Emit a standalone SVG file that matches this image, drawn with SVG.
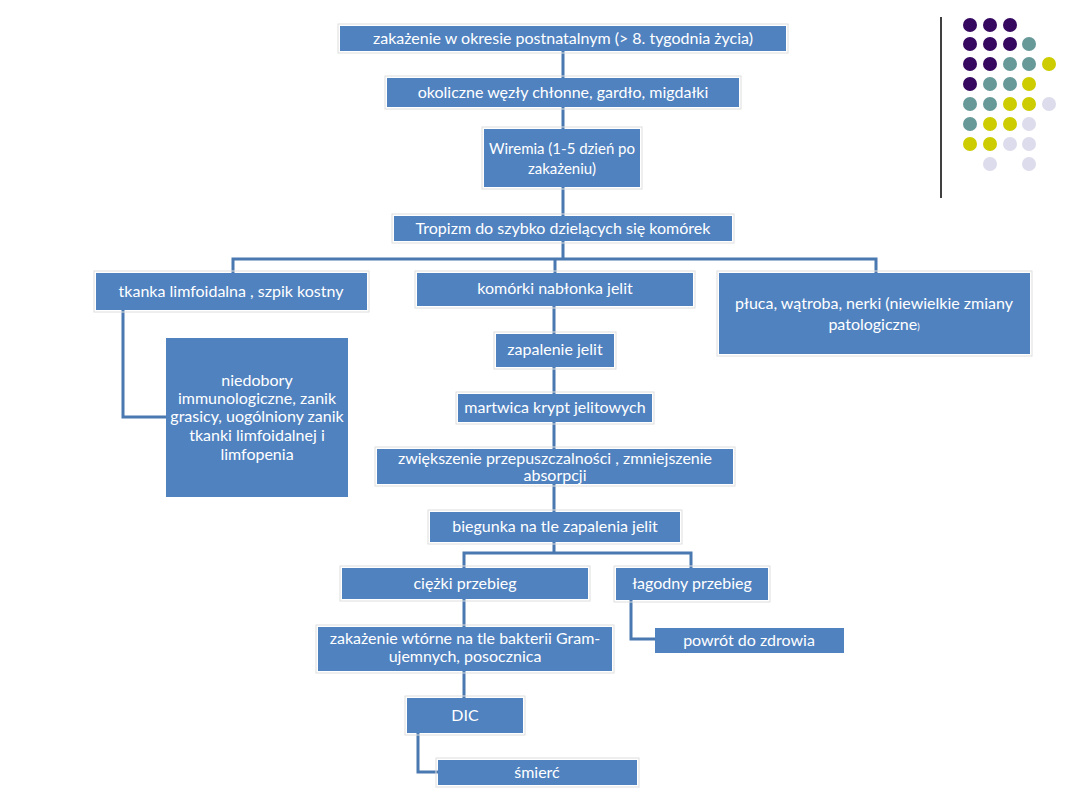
<svg xmlns="http://www.w3.org/2000/svg" width="1080" height="810" viewBox="0 0 1080 810">
<style>
.b{fill:#5082BF}
.o{fill:none;stroke:#dedede;stroke-width:1}
.t{fill:#fff;font-family:Lato,"Open Sans","Liberation Sans",sans-serif;font-size:16px;text-anchor:middle}
.t.s{font-size:15px}
.c{fill:none;stroke:#4A78B0;stroke-width:3}
.p{fill:#36085F}.g{fill:#679999}.y{fill:#CCCC00}.l{fill:#DCDCEC}
</style>
<rect width="1080" height="810" fill="#fff"/>
<g id="connectors">
<path class="c" d="M563 51V78M563 107V129M563 187V216M563 241V259M233 273V259H876V273M555 259V273"/>
<path class="c" d="M123 310V417H166"/>
<path class="c" d="M554 306V334M554 367V394M554 422V449M554 484V512M554 542V553"/>
<path class="c" d="M464 568V553H691V568"/>
<path class="c" d="M464 599V627M464 671V698"/>
<path class="c" d="M418 733V772H438"/>
<path class="c" d="M631 600V639H655"/>
</g>
<g id="n1"><rect class="o" x="338" y="24" width="450" height="29"/><rect class="b" x="340" y="26" width="446" height="25"/><text class="t" x="563" y="44">zakażenie w okresie postnatalnym (&gt; 8. tygodnia życia)</text></g>
<g id="n2"><rect class="o" x="385" y="76" width="356" height="33"/><rect class="b" x="387" y="78" width="352" height="29"/><text class="t" x="563" y="98">okoliczne węzły chłonne, gardło, migdałki</text></g>
<g id="n3"><rect class="o" x="482" y="127" width="160" height="62"/><rect class="b" x="484" y="129" width="156" height="58"/><text class="t s" x="562" y="154">Wiremia (1-5 dzień po</text><text class="t s" x="562" y="174">zakażeniu)</text></g>
<g id="n4"><rect class="o" x="392" y="214" width="342" height="29"/><rect class="b" x="394" y="216" width="338" height="25"/><text class="t" x="563" y="234">Tropizm do szybko dzielących się komórek</text></g>
<g id="n5"><rect class="o" x="94" y="271" width="275" height="41"/><rect class="b" x="96" y="273" width="271" height="37"/><text class="t" x="231" y="297">tkanka limfoidalna , szpik kostny</text></g>
<g id="n6"><rect class="b" x="166" y="338" width="182" height="159"/><text class="t" x="257" y="386">niedobory</text><text class="t" x="257" y="404">immunologiczne, zanik</text><text class="t" x="257" y="422">grasicy, uogólniony zanik</text><text class="t" x="257" y="441">tkanki limfoidalnej i</text><text class="t" x="257" y="460">limfopenia</text></g>
<g id="n7"><rect class="o" x="415" y="271" width="280" height="37"/><rect class="b" x="417" y="273" width="276" height="33"/><text class="t" x="555" y="294">komórki nabłonka jelit</text></g>
<g id="n8"><rect class="o" x="717" y="271" width="315" height="85"/><rect class="b" x="719" y="273" width="311" height="81"/><text class="t" x="874" y="309">płuca, wątroba, nerki (niewielkie zmiany</text><text class="t" x="874" y="330">patologiczne<tspan font-size="9">)</tspan></text></g>
<g id="n9"><rect class="o" x="494" y="332" width="122" height="37"/><rect class="b" x="496" y="334" width="118" height="33"/><text class="t" x="555" y="355">zapalenie jelit</text></g>
<g id="n10"><rect class="o" x="456" y="392" width="198" height="32"/><rect class="b" x="458" y="394" width="194" height="28"/><text class="t" x="555" y="413">martwica krypt jelitowych</text></g>
<g id="n11"><rect class="o" x="375" y="447" width="360" height="39"/><rect class="b" x="377" y="449" width="356" height="35"/><text class="t" x="555" y="464">zwiększenie przepuszczalności , zmniejszenie</text><text class="t" x="555" y="481">absorpcji</text></g>
<g id="n12"><rect class="o" x="428" y="510" width="254" height="34"/><rect class="b" x="430" y="512" width="250" height="30"/><text class="t" x="555" y="532">biegunka na tle zapalenia jelit</text></g>
<g id="n13"><rect class="o" x="340" y="566" width="250" height="35"/><rect class="b" x="342" y="568" width="246" height="31"/><text class="t" x="465" y="589">ciężki przebieg</text></g>
<g id="n14"><rect class="o" x="614" y="566" width="156" height="36"/><rect class="b" x="616" y="568" width="152" height="32"/><text class="t" x="692" y="589">łagodny przebieg</text></g>
<g id="n15"><rect class="b" x="655" y="628" width="189" height="25"/><text class="t" x="749" y="646">powrót do zdrowia</text></g>
<g id="n16"><rect class="o" x="316" y="625" width="298" height="48"/><rect class="b" x="318" y="627" width="294" height="44"/><text class="t" x="465" y="644">zakażenie wtórne na tle bakterii Gram-</text><text class="t" x="465" y="662">ujemnych, posocznica</text></g>
<g id="n17"><rect class="o" x="405" y="696" width="120" height="39"/><rect class="b" x="407" y="698" width="116" height="35"/><text class="t" x="465" y="721">DIC</text></g>
<g id="n18"><rect class="o" x="436" y="758" width="203" height="29"/><rect class="b" x="438" y="760" width="199" height="25"/><text class="t" x="537" y="778">śmierć</text></g>
<g id="decor">
<line x1="941" y1="17" x2="941" y2="198" stroke="#000" stroke-width="1.5"/>
<circle class="p" cx="970" cy="25" r="7"/><circle class="p" cx="990" cy="25" r="7"/><circle class="p" cx="1010" cy="25" r="7"/>
<circle class="p" cx="970" cy="44" r="7"/><circle class="p" cx="990" cy="44" r="7"/><circle class="p" cx="1010" cy="44" r="7"/><circle class="g" cx="1029" cy="44" r="7"/>
<circle class="p" cx="970" cy="64" r="7"/><circle class="p" cx="990" cy="64" r="7"/><circle class="g" cx="1010" cy="64" r="7"/><circle class="g" cx="1029" cy="64" r="7"/><circle class="y" cx="1049" cy="64" r="7"/>
<circle class="p" cx="970" cy="84" r="7"/><circle class="g" cx="990" cy="84" r="7"/><circle class="g" cx="1010" cy="84" r="7"/><circle class="y" cx="1029" cy="84" r="7"/>
<circle class="g" cx="970" cy="104" r="7"/><circle class="g" cx="990" cy="104" r="7"/><circle class="y" cx="1010" cy="104" r="7"/><circle class="y" cx="1029" cy="104" r="7"/><circle class="l" cx="1049" cy="104" r="7"/>
<circle class="g" cx="970" cy="124" r="7"/><circle class="y" cx="990" cy="124" r="7"/><circle class="y" cx="1010" cy="124" r="7"/><circle class="l" cx="1029" cy="124" r="7"/>
<circle class="y" cx="970" cy="144" r="7"/><circle class="y" cx="990" cy="144" r="7"/><circle class="l" cx="1010" cy="144" r="7"/><circle class="l" cx="1029" cy="144" r="7"/>
<circle class="l" cx="990" cy="164" r="7"/><circle class="l" cx="1029" cy="164" r="7"/>
</g>
</svg>
